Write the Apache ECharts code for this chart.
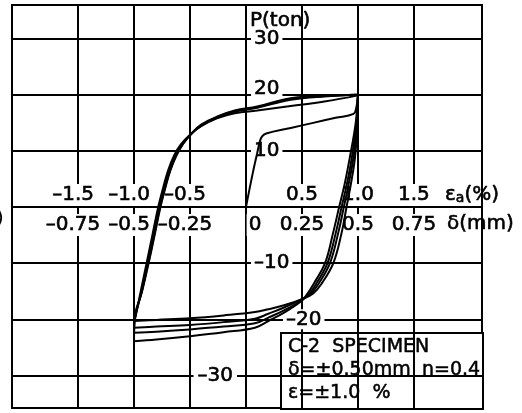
<!DOCTYPE html>
<html>
<head>
<meta charset="utf-8">
<script src="https://cdn.jsdelivr.net/npm/echarts@6/dist/echarts.min.js"></script>
<style>
  html, body { margin: 0; padding: 0; background: #fff; }
  #chart { width: 522px; height: 413px; }
</style>
</head>
<body>
<div id="chart"></div>
<script>
// Cyclic load test of specimen C-2: displacement δ (mm) against load P (ton).
// Each branch is a list of [δ, P] pairs.
const virgin = [[0, 0], [0.03, 6.0], [0.05, 9.6], [0.062, 11.7], [0.072, 12.6], [0.09, 13.1],
  [0.2, 14.1], [0.3, 15.0], [0.4, 15.9], [0.48, 16.6], [0.492, 17.6], [0.5, 19.8]];

const unload1 = [[0.5, 19.8], [0.497, 15], [0.487, 8.9], [0.468, 4], [0.449, 0], [0.427, -4.6],
  [0.39, -10], [0.34, -13.5], [0.3, -15.4], [0.25, -16.4], [0.17, -17.5], [0.1, -18.2],
  [0.04, -18.7], [-0.1, -19.3], [-0.25, -19.8], [-0.4, -20.1], [-0.5, -20.3]];
const unload2 = [[0.5, 19.9], [0.495, 15], [0.48, 8.9], [0.458, 4], [0.437, 0], [0.412, -4.6],
  [0.375, -10], [0.327, -13.5], [0.288, -15.5], [0.25, -16.4], [0.17, -17.9], [0.1, -19.0],
  [0.04, -19.9], [-0.1, -20.5], [-0.25, -21.0], [-0.4, -21.3], [-0.5, -21.5]];
const unload3 = [[0.5, 20.0], [0.493, 15], [0.473, 8.9], [0.45, 4], [0.427, 0], [0.401, -4.6],
  [0.364, -10], [0.316, -13.5], [0.28, -15.6], [0.25, -16.6], [0.17, -18.4], [0.1, -19.7],
  [0.04, -20.7], [-0.1, -21.3], [-0.25, -21.8], [-0.4, -22.2], [-0.5, -22.4]];
const unload4 = [[0.5, 20.0], [0.49, 15], [0.464, 8.9], [0.44, 4], [0.416, 0], [0.389, -4.6],
  [0.353, -10], [0.305, -13.5], [0.27, -15.7], [0.245, -16.8], [0.17, -18.8], [0.1, -20.3],
  [0.04, -21.5], [-0.1, -22.3], [-0.25, -23.0], [-0.4, -23.6], [-0.5, -23.9]];

const reload1 = [[-0.5, -20.3], [-0.496, -20], [-0.47, -15], [-0.444, -10], [-0.418, -5],
  [-0.392, 0], [-0.373, 3], [-0.348, 6.5], [-0.32, 9.3], [-0.29, 11.2], [-0.25, 12.9],
  [-0.2, 14.4], [-0.13, 15.8], [-0.05, 16.7], [0.05, 17.2], [0.2, 18.0], [0.35, 18.8], [0.5, 19.9]];
const reload2 = [[-0.5, -21.5], [-0.497, -20], [-0.466, -15], [-0.439, -10], [-0.412, -5],
  [-0.386, 0], [-0.367, 3], [-0.342, 6.5], [-0.313, 9.3], [-0.283, 11.3], [-0.245, 13.0],
  [-0.2, 14.5], [-0.13, 15.9], [-0.05, 17.0], [0.05, 17.7], [0.2, 19.1], [0.35, 19.7], [0.5, 20.0]];
const reload3 = [[-0.5, -22.4], [-0.497, -20], [-0.465, -15], [-0.437, -10], [-0.41, -5],
  [-0.384, 0], [-0.365, 3], [-0.34, 6.5], [-0.311, 9.3], [-0.281, 11.3], [-0.243, 13.1],
  [-0.2, 14.6], [-0.13, 16.0], [-0.05, 17.1], [0.05, 17.8], [0.2, 19.3], [0.35, 19.8], [0.5, 20.0]];
const reload4 = [[-0.5, -23.9], [-0.498, -20], [-0.464, -15], [-0.435, -10], [-0.408, -5],
  [-0.382, 0], [-0.363, 3], [-0.338, 6.5], [-0.309, 9.3], [-0.279, 11.4], [-0.241, 13.2],
  [-0.2, 14.7], [-0.13, 16.1], [-0.05, 17.2], [0.05, 17.9], [0.2, 19.4], [0.35, 19.8], [0.5, 20.0]];

// Tick values
const deltaTicks = [-0.75, -0.5, -0.25, 0, 0.25, 0.5, 0.75];   // δ (mm)
const strainTicks = [-1.5, -1.0, -0.5, 0.5, 1.0, 1.5];         // ε_a (%)
const loadTicks = [-30, -20, -10, 0, 10, 20, 30];              // P (ton)
const loadLabelsRight = [30, 20, 10, -10, -20];
const loadLabelsLeft = [-30];

// Axis extents (frame of the plot)
const DMIN = -1.045, DMAX = 1.054;
const STRAIN_PER_MM = 2;            // ε_a (%) = δ / 50 mm × 100
const PMIN = -35.8, PMAX = 36;

// Frame of the plot in the 522 × 413 canvas
const FRAME = { left: 12, top: 5, width: 470, height: 403 };
// Where the origin falls inside the frame, from the axis extents
const ORIGIN_X = FRAME.left + (0 - DMIN) / (DMAX - DMIN) * FRAME.width;
const ORIGIN_Y = FRAME.top + (PMAX - 0) / (PMAX - PMIN) * FRAME.height;

const FONT = 'DejaVu Sans';
const INK = '#000';
const branches = [virgin, unload1, reload1, unload2, reload2, unload3, reload3, unload4, reload4];

const dash = s => s.replace('-', '\u2013');
const ink = { fontFamily: FONT, fontSize: 20, color: INK, textBorderColor: INK, textBorderWidth: 0.6 };
const plate = Object.assign({ backgroundColor: '#fff', padding: [1, 2] }, ink);
const xRich = { n: plate, m: { width: 10 }, z: { width: 18 } };
const allLabels = { showMinLabel: true, showMaxLabel: true, hideOverlap: false };
// Alternate labels go on two scales so neighbouring boxes never compete
const everyOther = (arr, start) => arr.filter((_, i) => i % 2 === start);

// Negative numbers hang their sign to the left of the tick
function xLabel(text, v) {
  if (v < 0) return '{n|' + dash(text) + '}{m| }';
  if (v === 0) return '{z| }{n|' + text + '}';
  return '{n|' + text + '}';
}
// Load labels sit right of the P axis; 20 is lifted above its line, -20 set clear of the curves
function yLabel(v) {
  if (v === 20) return '{r|20}\n{g| }';
  const t = '{n|' + dash(String(v)) + '}';
  if (v === -20) return '{s| }' + t;
  return t;
}

const hidden = { show: false };
const noLine = { show: false, onZero: false };
function dummyAxis(gridIndex, min, max) {
  return { gridIndex, type: 'value', min, max, show: false, axisLine: noLine, splitLine: hidden, axisLabel: hidden, axisTick: hidden };
}
// δ scale along the lower edge of grid 1 (labels below the line)
function deltaScale(values, withName) {
  const axis = {
    gridIndex: 1, type: 'value', min: DMIN, max: DMAX, position: 'bottom', z: 1,
    axisLine: noLine, splitLine: hidden,
    axisTick: { show: false, customValues: values },
    axisLabel: Object.assign({ customValues: values, margin: 7, rich: xRich, formatter: v => xLabel(String(v), v) }, allLabels)
  };
  if (withName) {
    Object.assign(axis, {
      name: 'δ(mm)', nameLocation: 'end', nameGap: -35, nameMoveOverlap: false,
      nameTextStyle: Object.assign({ align: 'left', verticalAlign: 'top', padding: [7, 0, 0, 0] }, ink)
    });
  }
  return axis;
}
// ε_a scale on the same line (labels above the line)
function strainScale(values, withName) {
  const axis = {
    gridIndex: 1, type: 'value', min: DMIN * STRAIN_PER_MM, max: DMAX * STRAIN_PER_MM, position: 'bottom', z: 1,
    axisLine: noLine, splitLine: hidden,
    axisTick: { show: false, customValues: values },
    axisLabel: Object.assign({ inside: true, customValues: values, margin: 1, rich: xRich, formatter: v => xLabel(v.toFixed(1), v) }, allLabels)
  };
  if (withName) {
    Object.assign(axis, {
      name: '{e|ε}{s|a}{e|(%)}', nameLocation: 'end', nameGap: -37, nameMoveOverlap: false,
      nameTextStyle: {
        align: 'left', verticalAlign: 'bottom', padding: [0, 0, 2, 0],
        rich: { e: ink, s: Object.assign({}, ink, { fontSize: 14, padding: [6, 0, 0, 0] }) }
      }
    });
  }
  return axis;
}

const chart = echarts.init(document.getElementById('chart'));
chart.setOption({
  animation: false,
  backgroundColor: '#fff',
  grid: [
    // 0: plotting frame with the grid lines and the curves
    Object.assign({ show: true, borderColor: INK, borderWidth: 2, backgroundColor: 'transparent', outerBoundsMode: 'none' }, FRAME),
    // 1: frame part above the δ axis, carries the δ and ε_a scales on its lower edge
    { left: FRAME.left, top: FRAME.top, width: FRAME.width, height: ORIGIN_Y - FRAME.top, outerBoundsMode: 'none' },
    // 2: frame part right of the P axis, carries the P scale on its left edge
    { left: ORIGIN_X, top: FRAME.top, width: FRAME.left + FRAME.width - ORIGIN_X, height: FRAME.height, outerBoundsMode: 'none' }
  ],
  xAxis: [
    {
      gridIndex: 0, type: 'value', min: DMIN, max: DMAX,
      axisLine: noLine, axisLabel: hidden,
      axisTick: { show: false, customValues: deltaTicks },
      splitLine: { show: true, lineStyle: { color: INK, width: 2 } }
    },
    deltaScale(everyOther(deltaTicks, 0), true),
    deltaScale(everyOther(deltaTicks, 1), false),
    strainScale(everyOther(strainTicks, 0), true),
    strainScale(everyOther(strainTicks, 1), false),
    dummyAxis(2, DMIN, DMAX)
  ],
  yAxis: [
    {
      gridIndex: 0, type: 'value', min: PMIN, max: PMAX,
      axisLine: noLine, axisLabel: hidden,
      axisTick: { show: false, customValues: loadTicks },
      splitLine: { show: true, lineStyle: { color: INK, width: 2 } }
    },
    dummyAxis(1, 0, PMAX),
    {
      gridIndex: 2, type: 'value', min: PMIN, max: PMAX, position: 'left', z: 1,
      axisLine: noLine, splitLine: hidden,
      axisTick: { show: false, customValues: loadLabelsRight },
      axisLabel: Object.assign({
        customValues: loadLabelsRight, inside: true, margin: 5,
        rich: {
          n: Object.assign({ backgroundColor: '#fff', padding: [0, 3] }, ink),
          r: Object.assign({ backgroundColor: '#fff', padding: [0, 3, 5, 3] }, ink),
          g: { fontSize: 2, lineHeight: 8 },
          s: { width: 32 }
        },
        formatter: yLabel
      }, allLabels),
      name: 'P(ton)', nameLocation: 'end', nameGap: -16, nameMoveOverlap: false,
      nameTextStyle: Object.assign({ align: 'left', verticalAlign: 'middle', padding: [0, 0, 0, 4] }, ink)
    },
    {
      gridIndex: 2, type: 'value', min: PMIN, max: PMAX, position: 'left', z: 1,
      axisLine: noLine, splitLine: hidden,
      axisTick: { show: false, customValues: loadLabelsLeft },
      axisLabel: Object.assign({
        customValues: loadLabelsLeft, inside: false, margin: 9,
        rich: { n: Object.assign({ backgroundColor: '#fff', padding: [0, 4] }, ink) },
        formatter: v => '{n|' + dash(String(v)) + '}'
      }, allLabels)
    }
  ],
  series: branches.map(b => ({
    type: 'line', data: b, xAxisIndex: 0, yAxisIndex: 0,
    showSymbol: false, smooth: 0.4, z: 3,
    lineStyle: { color: INK, width: 2 }
  })),
  graphic: [
    { type: 'text', left: -4, top: 209, z: 1, style: { text: ')', font: '20px "DejaVu Sans"', fill: INK } },
    {
      type: 'group', left: 280, top: 332, z: 20,
      children: [
        { type: 'rect', shape: { x: 0, y: 0, width: 202, height: 76 }, style: { fill: '#fff', stroke: INK, lineWidth: 2 } },
        { type: 'text', x: 7, y: 14, style: { text: 'C-2  SPECIMEN', font: '19px "DejaVu Sans"', fill: INK, stroke: INK, lineWidth: 0.5, verticalAlign: 'middle' } },
        { type: 'text', x: 7, y: 37, style: { text: 'δ=±0.50mm', font: '19px "DejaVu Sans"', fill: INK, stroke: INK, lineWidth: 0.5, verticalAlign: 'middle' } },
        { type: 'text', x: 141, y: 37, style: { text: 'n=0.4', font: '19px "DejaVu Sans"', fill: INK, stroke: INK, lineWidth: 0.5, verticalAlign: 'middle' } },
        { type: 'text', x: 7, y: 60, style: { text: 'ε=±1.0  %', font: '19px "DejaVu Sans"', fill: INK, stroke: INK, lineWidth: 0.5, verticalAlign: 'middle' } }
      ]
    }
  ]
});
</script>
</body>
</html>
